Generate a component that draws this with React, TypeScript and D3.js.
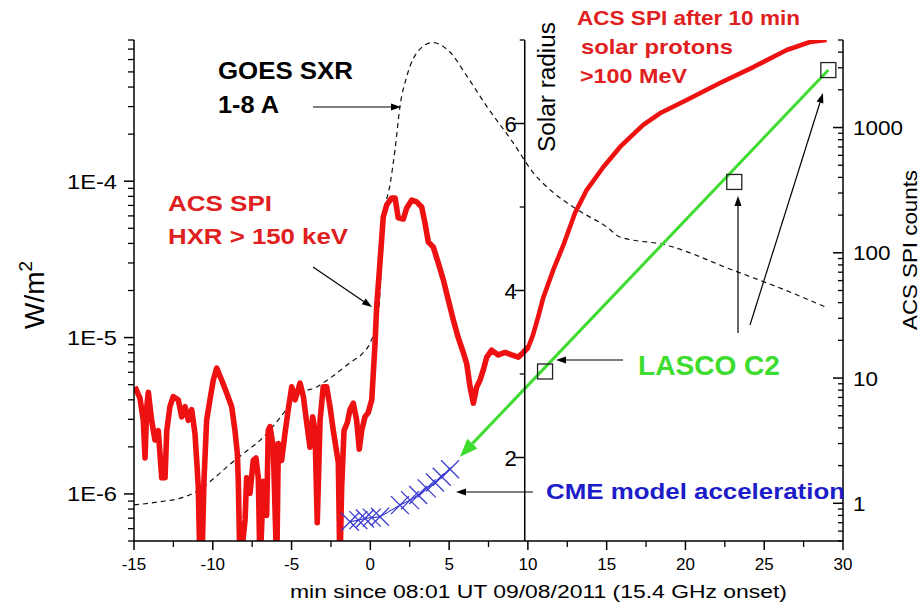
import React from "react";
import * as d3 from "d3";

// frame of the plot, px
const W = 923;
const H = 614;
const left = 134;
const right = 843;
const top = 40;
const bottom = 541;

const xTicks = [-15, -10, -5, 0, 5, 10, 15, 20, 25, 30];
const fluxTicks = [1e-6, 1e-5, 1e-4];
const fluxLabels = ["1E-6", "1E-5", "1E-4"];
const countTicks = [1, 10, 100, 1000];
const radiusTicks = [2, 4, 6];

// GOES SXR 1-8 A, W/m^2
const goesTime = [-15, -13.4, -11.9, -11.0, -10.0, -8.9, -7.85, -6.8, -5.7, -4.7, -3.3, -2.35, -1.3, -0.45, 0.0, 0.5, 0.72, 0.93, 1.25, 1.57, 1.88, 2.32, 3.15, 3.97, 5.05, 6.13, 7.4, 9.05, 10.32, 11.59, 13.11, 15.0, 15.84, 18.8, 23.0, 26.4, 29.0];
const goesFlux = [8.5e-7, 8.9e-7, 9.5e-7, 1.04e-6, 1.24e-6, 1.55e-6, 1.88e-6, 2.3e-6, 3.1e-6, 4.2e-6, 4.9e-6, 5.7e-6, 6.9e-6, 8.0e-6, 9.3e-6, 1.4e-5, 3.0e-5, 6.3e-5, 9.5e-5, 1.6e-4, 3.0e-4, 4.7e-4, 7.0e-4, 7.7e-4, 6.7e-4, 4.7e-4, 3.0e-4, 1.77e-4, 1.14e-4, 8.5e-5, 6.6e-5, 5.1e-5, 4.4e-5, 3.9e-5, 2.7e-5, 2.0e-5, 1.55e-5];

// ACS SPI counts (HXR > 150 keV, then protons after 10 min)
const spiTime = [-14.94, -14.62, -14.41, -14.3, -14.19, -14.09, -13.88, -13.67, -13.46, -13.24, -13.03, -12.92, -12.72, -12.51, -12.19, -11.97, -11.76, -11.55, -11.34, -11.13, -11.02, -10.92, -10.81, -10.7, -10.56, -10.39, -10.18, -9.97, -9.75, -9.43, -9.12, -8.8, -8.59, -8.44, -8.38, -8.27, -7.95, -7.85, -7.64, -7.43, -7.26, -7.11, -7.0, -6.79, -6.58, -6.48, -6.37, -6.16, -5.94, -5.84, -5.63, -5.42, -5.21, -4.99, -4.78, -4.46, -4.25, -4.04, -3.83, -3.66, -3.51, -3.37, -3.19, -2.99, -2.77, -2.56, -2.35, -2.03, -1.93, -1.82, -1.67, -1.46, -1.29, -1.08, -0.87, -0.7, -0.55, -0.34, -0.13, 0.09, 0.3, 0.4, 0.61, 0.82, 1.04, 1.36, 1.57, 1.77, 2.09, 2.31, 2.63, 2.94, 3.26, 3.47, 3.68, 4.0, 4.31, 4.63, 4.95, 5.27, 5.58, 5.9, 6.12, 6.33, 6.54, 6.75, 6.96, 7.17, 7.39, 7.7, 8.12, 8.55, 8.97, 9.39, 9.71, 10.03, 10.32, 10.66, 10.98, 11.61, 12.25, 12.99, 13.73, 14.79, 15.85, 17.32, 18.38, 20.08, 22.19, 24.31, 26.43, 27.9, 28.96];
const spiCounts = [8.5, 6.9, 4.6, 2.3, 5.9, 7.7, 4.6, 3.2, 3.8, 1.6, 1.6, 3.8, 5.9, 7.1, 6.7, 4.9, 5.9, 4.6, 5.6, 3.6, 2.2, 1.35, 0.3, 0.3, 1.5, 4.6, 6.7, 9.6, 12, 9.6, 7.6, 5.9, 3.8, 2.5, 1.5, 0.3, 0.74, 1.6, 1.2, 2.2, 2.3, 1.6, 0.3, 1.5, 0.8, 3.8, 4.1, 2.8, 0.3, 3.0, 2.2, 3.6, 5.6, 8.5, 6.7, 9.1, 7.1, 4.4, 2.8, 4.9, 3.8, 0.7, 4.6, 8.5, 8.5, 5.9, 3.8, 2.1, 0.3, 1.35, 3.8, 4.4, 5.6, 6.3, 4.6, 2.7, 3.8, 4.9, 5.3, 6.7, 19, 37, 83, 193, 241, 274, 274, 190, 186, 228, 264, 255, 232, 173, 122, 111, 83, 61, 42, 29, 21, 16, 13, 8.5, 6.3, 8.5, 9.6, 11.6, 14.7, 16.7, 15.3, 16, 15.3, 14.7, 16, 17.7, 22, 31, 44, 73, 115, 208, 317, 484, 700, 1050, 1300, 1660, 2270, 3040, 4160, 4820, 5000];

// LASCO C2 heights, solar radii
const lascoTime = [11.09, 23.1, 29.07];
const lascoRadius = [3.03, 5.3, 6.64];
// back-extrapolated straight line (drawn as an arrow)
const lascoFitTime = [29.07, 5.69];
const lascoFitRadius = [6.64, 2.01];

// CME model acceleration
const cmeTime = [-1.29, -0.76, -0.34, 0.09, 0.61, 1.88, 2.52, 3.04, 3.58, 4.1, 4.53, 5.06];
const cmeRadius = [1.23, 1.25, 1.27, 1.28, 1.29, 1.43, 1.49, 1.55, 1.63, 1.7, 1.77, 1.86];

const FONT = "'Liberation Sans', Arial, sans-serif";
const RED = "#ee1111";
const RED_TEXT = "#e02020";
const GREEN = "#3ddc2e";
const BLUE = "#1c1cc8";

function logMinor(d0: number, d1: number) {
  const out: number[] = [];
  for (let k = Math.floor(Math.log10(d0)); k <= Math.ceil(Math.log10(d1)); k++) {
    for (let m = 2; m <= 9; m++) {
      const v = m * Math.pow(10, k);
      if (v >= d0 * 0.999 && v <= d1 * 1.001) out.push(v);
    }
  }
  return out;
}

function Arrow(props: { x1: number; y1: number; x2: number; y2: number; color?: string; len?: number; wid?: number; sw?: number }) {
  const { x1, y1, x2, y2 } = props;
  const color = props.color || "#000";
  const len = props.len || 10;
  const wid = props.wid || 7;
  const a = Math.atan2(y2 - y1, x2 - x1);
  const bx = x2 - len * Math.cos(a);
  const by = y2 - len * Math.sin(a);
  const px = (wid / 2) * Math.sin(a);
  const py = (wid / 2) * -Math.cos(a);
  return (
    <g>
      <line x1={x1} y1={y1} x2={bx} y2={by} stroke={color} strokeWidth={props.sw || 1.2} />
      <polygon points={`${x2},${y2} ${bx + px},${by + py} ${bx - px},${by - py}`} fill={color} />
    </g>
  );
}

export default function App() {
  const x = d3.scaleLinear().domain([-15, 30]).range([left, right]);
  const yFlux = d3.scaleLog().domain([5e-7, 8e-4]).range([bottom, top]);
  const yCounts = d3.scaleLog().domain([0.5, 5000]).range([bottom, top]);
  const yRadius = d3.scaleLinear().domain([1, 7]).range([bottom, top]);

  const goesPath = d3
    .line<number>()
    .x((_, i) => x(goesTime[i]))
    .y((d) => yFlux(d))
    .curve(d3.curveMonotoneX)(goesFlux);

  const n = Math.min(spiTime.length, spiCounts.length);
  const spiPts = d3.range(n).map((i) => [spiTime[i], spiCounts[i]] as [number, number]);
  const spiLine = d3
    .line<[number, number]>()
    .x((d) => x(d[0]))
    .y((d) => yCounts(d[1]));
  // noisy HXR part is drawn a bit heavier than the smooth proton part
  const hxrPath = spiLine(spiPts.filter((d) => d[0] <= 10.1));
  const protonPath = spiLine(spiPts.filter((d) => d[0] >= 9.7));

  const cmePath = d3
    .line<number>()
    .x((_, i) => x(cmeTime[i]))
    .y((d) => yRadius(d))(cmeRadius);

  const minorX = d3.range(-15, 30.01, 2.5).filter((v) => v % 5 !== 0);
  const radiusAxisX = x(9.8);

  return (
    <svg width={W} height={H} style={{ position: "absolute", left: 0, top: 0, background: "#fff" }} fontFamily={FONT}>
      <defs>
        <clipPath id="plot">
          <rect x={left} y={top} width={right - left} height={bottom - top} />
        </clipPath>
      </defs>

      {/* data */}
      <g clipPath="url(#plot)">
        <path d={goesPath || ""} fill="none" stroke="#111" strokeWidth={1.2} strokeDasharray="5,4" />
        <path d={hxrPath || ""} fill="none" stroke={RED} strokeWidth={5.6} strokeLinejoin="round" />
        <path d={protonPath || ""} fill="none" stroke={RED} strokeWidth={4.6} strokeLinejoin="round" />
        <path d={cmePath || ""} fill="none" stroke={BLUE} strokeWidth={1} />
        {cmeTime.map((t, i) => {
          const cx = x(t);
          const cy = yRadius(cmeRadius[i]);
          const s = 9;
          return (
            <g key={i} stroke="#3a3ad0" strokeWidth={1.3}>
              <line x1={cx - s} y1={cy - s} x2={cx + s} y2={cy + s} />
              <line x1={cx - s} y1={cy + s} x2={cx + s} y2={cy - s} />
            </g>
          );
        })}
      </g>
      <Arrow
        x1={x(lascoFitTime[0])}
        y1={yRadius(lascoFitRadius[0])}
        x2={x(lascoFitTime[1])}
        y2={yRadius(lascoFitRadius[1])}
        color={GREEN}
        len={18}
        wid={14}
        sw={3}
      />
      {lascoTime.map((t, i) => (
        <rect
          key={i}
          x={x(t) - 7.5}
          y={yRadius(lascoRadius[i]) - 7.5}
          width={15}
          height={15}
          fill="none"
          stroke="#222"
          strokeWidth={1.3}
        />
      ))}

      {/* left axis */}
      <line x1={left} y1={top} x2={left} y2={bottom} stroke="#000" strokeWidth={1.5} />
      {logMinor(5e-7, 8e-4).map((v) => (
        <line key={v} x1={left - 6} x2={left} y1={yFlux(v)} y2={yFlux(v)} stroke="#000" strokeWidth={1.3} />
      ))}
      {fluxTicks.map((v, i) => (
        <g key={v}>
          <line x1={left - 10} x2={left} y1={yFlux(v)} y2={yFlux(v)} stroke="#000" strokeWidth={1.5} />
          <text x={117} y={yFlux(v) + 7.5} textAnchor="end" fontSize={21} textLength={50} lengthAdjust="spacingAndGlyphs">
            {fluxLabels[i]}
          </text>
        </g>
      ))}
      <text transform="translate(44,295) rotate(-90)" textAnchor="middle" fontSize={28}>
        W/m
        <tspan fontSize={19} dy={-12}>
          2
        </tspan>
      </text>

      {/* bottom axis */}
      <line x1={left} y1={bottom} x2={right} y2={bottom} stroke="#000" strokeWidth={1.5} />
      {minorX.map((v) => (
        <line key={v} x1={x(v)} x2={x(v)} y1={bottom} y2={bottom + 6} stroke="#000" strokeWidth={1.3} />
      ))}
      {xTicks.map((v) => (
        <g key={v}>
          <line x1={x(v)} x2={x(v)} y1={bottom} y2={bottom + 9} stroke="#000" strokeWidth={1.5} />
          <text x={x(v)} y={570} textAnchor="middle" fontSize={17}>
            {String(v)}
          </text>
        </g>
      ))}
      <text x={290} y={598} fontSize={18} textLength={497} lengthAdjust="spacingAndGlyphs">
        min since 08:01 UT 09/08/2011 (15.4 GHz onset)
      </text>

      {/* solar radius axis */}
      <line x1={radiusAxisX} y1={top} x2={radiusAxisX} y2={bottom} stroke="#000" strokeWidth={1.5} />
      {[3, 5, 7].map((v) => (
        <line key={v} x1={radiusAxisX - 5} x2={radiusAxisX} y1={yRadius(v)} y2={yRadius(v)} stroke="#000" strokeWidth={1.3} />
      ))}
      {radiusTicks.map((v) => (
        <g key={v}>
          <line x1={radiusAxisX - 10} x2={radiusAxisX} y1={yRadius(v)} y2={yRadius(v)} stroke="#000" strokeWidth={1.5} />
          <text x={radiusAxisX - 8} y={yRadius(v) + 8} textAnchor="end" fontSize={22}>
            {String(v)}
          </text>
        </g>
      ))}
      <text transform="translate(555,87) rotate(-90)" textAnchor="middle" fontSize={23} textLength={130} lengthAdjust="spacingAndGlyphs">
        Solar radius
      </text>

      {/* right axis, ACS SPI counts */}
      <line x1={right} y1={top} x2={right} y2={bottom} stroke="#000" strokeWidth={1.5} />
      {logMinor(0.5, 5000).map((v) => (
        <line key={v} x1={right - 5} x2={right} y1={yCounts(v)} y2={yCounts(v)} stroke="#000" strokeWidth={1.3} />
      ))}
      {countTicks.map((v) => (
        <g key={v}>
          <line x1={right - 10} x2={right} y1={yCounts(v)} y2={yCounts(v)} stroke="#000" strokeWidth={1.5} />
          <text x={853} y={yCounts(v) + 7.5} fontSize={21} textLength={String(v).length * 12.5} lengthAdjust="spacingAndGlyphs">
            {String(v)}
          </text>
        </g>
      ))}
      <text transform="translate(917,250) rotate(-90)" textAnchor="middle" fontSize={21} textLength={160} lengthAdjust="spacingAndGlyphs">
        ACS SPI counts
      </text>

      {/* annotations */}
      <g fontWeight="bold">
        <text x={218} y={79} fontSize={24} textLength={135} lengthAdjust="spacingAndGlyphs">GOES SXR</text>
        <text x={218} y={113} fontSize={24} textLength={61} lengthAdjust="spacingAndGlyphs">1-8 A</text>
        <text x={168} y={211} fontSize={22} fill={RED_TEXT} textLength={104} lengthAdjust="spacingAndGlyphs">ACS SPI</text>
        <text x={168} y={244} fontSize={22} fill={RED_TEXT} textLength={180} lengthAdjust="spacingAndGlyphs">HXR &gt; 150 keV</text>
        <text x={577} y={25} fontSize={21} fill={RED_TEXT} textLength={223} lengthAdjust="spacingAndGlyphs">ACS SPI after 10 min</text>
        <text x={581} y={54} fontSize={21} fill={RED_TEXT} textLength={152} lengthAdjust="spacingAndGlyphs">solar protons</text>
        <text x={580} y={83} fontSize={21} fill={RED_TEXT} textLength={107} lengthAdjust="spacingAndGlyphs">&gt;100 MeV</text>
        <text x={638} y={375} fontSize={27} fill={GREEN} textLength={142} lengthAdjust="spacingAndGlyphs">LASCO C2</text>
        <text x={546} y={499} fontSize={22} fill={BLUE} textLength={299} lengthAdjust="spacingAndGlyphs">CME model acceleration</text>
      </g>
      <Arrow x1={313} y1={107} x2={401} y2={107} />
      <Arrow x1={313} y1={267} x2={372} y2={307} />
      <Arrow x1={623} y1={360} x2={556} y2={360} />
      <Arrow x1={738} y1={333} x2={738} y2={196} />
      <Arrow x1={750} y1={325} x2={823} y2={93} />
      <Arrow x1={533} y1={492} x2={456} y2={492} />
    </svg>
  );
}
